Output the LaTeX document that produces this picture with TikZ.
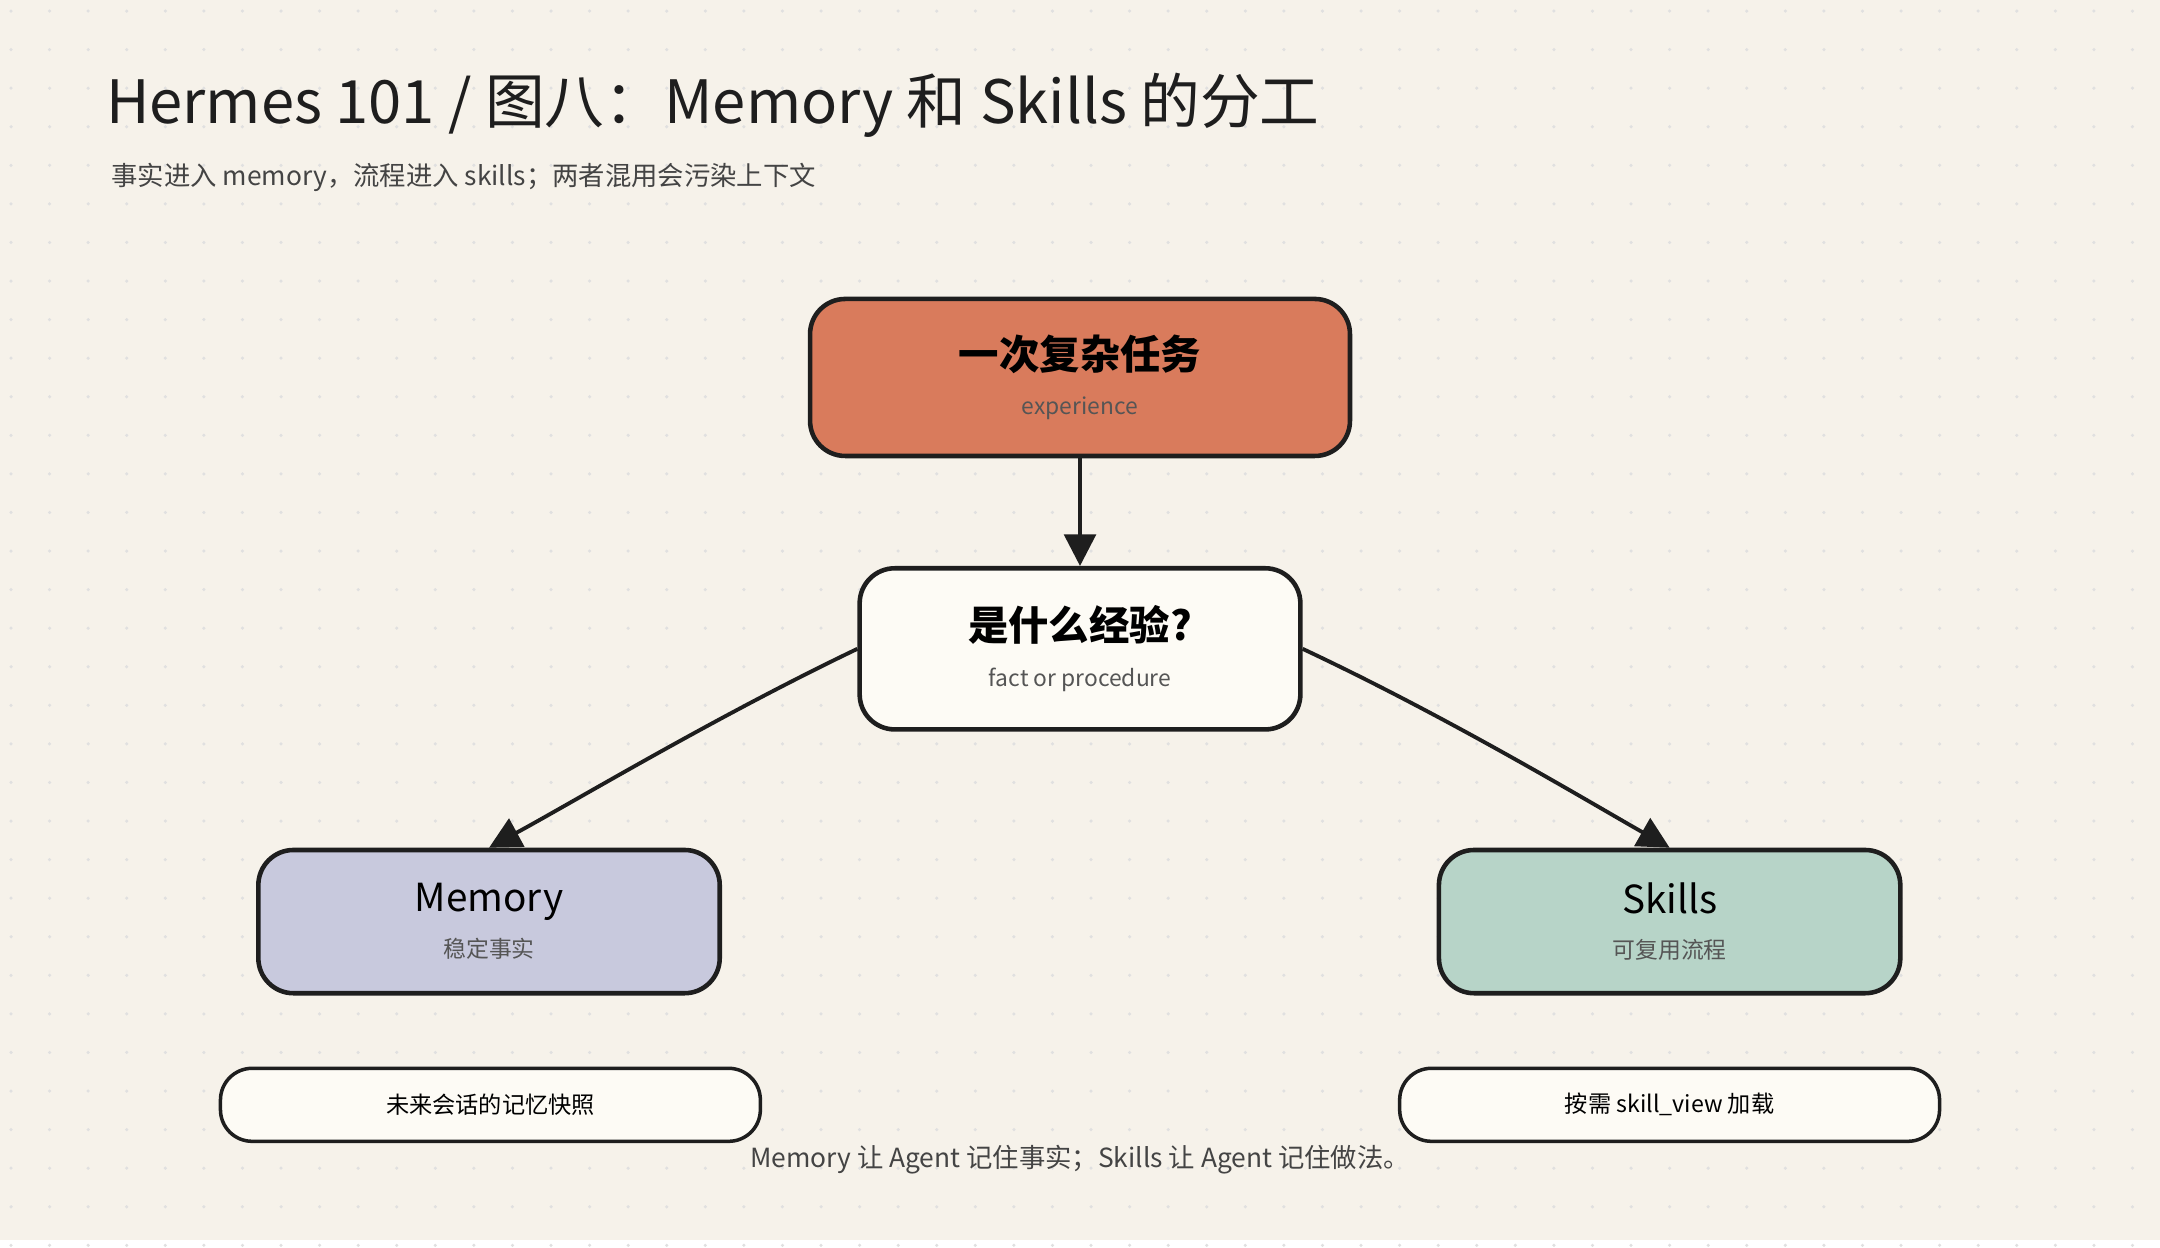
\documentclass[tikz,border=0pt]{standalone}
\usepackage{fontspec}
\setmainfont{Noto Sans CJK SC}
\usetikzlibrary{arrows.meta}
\definecolor{bg}{HTML}{F6F2EA}
\definecolor{ink}{HTML}{1E1E1E}
\definecolor{grey}{HTML}{555555}
\definecolor{task}{HTML}{D97B5C}
\definecolor{paper}{HTML}{FDFBF5}
\definecolor{mem}{HTML}{C8C9DD}
\definecolor{skl}{HTML}{B7D4C8}
\tikzset{
  box/.style={draw=ink, line width=1.3pt, rounded corners=10pt, align=center, inner sep=0pt},
  pill/.style={draw=ink, line width=1pt, rounded corners=9pt, fill=paper, minimum width=392*0.13776cm/10, minimum height=53*0.13776cm/10, font=\fontsize{6.6}{8}\selectfont},
  link/.style={ink, line width=1.1pt, -{Triangle[length=9pt, width=9pt]}}
}
\newcommand{\boxtext}[2]{{\fontsize{11.5}{13}\selectfont\bfseries #1}\\[1pt]{\fontsize{6.5}{8}\selectfont\color{grey}#2}}
\begin{document}
\begin{tikzpicture}[x=0.013776cm, y=-0.013776cm]

    \fill[bg] (0,0) rectangle (1568,900);
    \foreach \i in {0,...,55} \foreach \j in {0,...,32}
        \fill[black!12] (\i*28+8, \j*28+8) circle (0.5pt);

    \node[anchor=base west, font=\fontsize{17}{20}\selectfont, text=ink] (title) at (68,90) {Hermes 101 / 图八：Memory 和 Skills 的分工};
    \node[anchor=base west, font=\fontsize{7.5}{9}\selectfont, text=grey!80!black] (sub) at (72,135) {事实进入 memory，流程进入 skills；两者混用会污染上下文};

    \node[box, fill=task, minimum width=392*0.13776cm/10, minimum height=114*0.13776cm/10] (task) at (784,274) {\boxtext{一次复杂任务}{experience}};
    \node[box, fill=paper, minimum width=320*0.13776cm/10, minimum height=117*0.13776cm/10] (kind) at (784,471) {\boxtext{是什么经验?}{fact or procedure}};
    \node[box, fill=mem, minimum width=335*0.13776cm/10, minimum height=104*0.13776cm/10] (memory) at (355,669) {{\fontsize{11}{13}\selectfont Memory}\\[1pt]{\fontsize{6.5}{8}\selectfont\color{grey}稳定事实}};
    \node[box, fill=skl, minimum width=335*0.13776cm/10, minimum height=104*0.13776cm/10] (skills) at (1212,669) {{\fontsize{11}{13}\selectfont Skills}\\[1pt]{\fontsize{6.5}{8}\selectfont\color{grey}可复用流程}};

    \node[pill] (snap) at (356,802) {未来会话的记忆快照};
    \node[pill] (view) at (1212,802) {按需 skill\_view 加载};

    \draw[link] (task) -- (kind);
    \draw[link] (kind.west) .. controls (520,520) and (420,580) .. (memory.north);
    \draw[link] (kind.east) .. controls (1050,520) and (1150,580) .. (skills.north);

    \node[font=\fontsize{7.5}{9}\selectfont, text=grey!80!black] (foot) at (784,842) {Memory 让 Agent 记住事实；Skills 让 Agent 记住做法。};

\end{tikzpicture}
\end{document}
